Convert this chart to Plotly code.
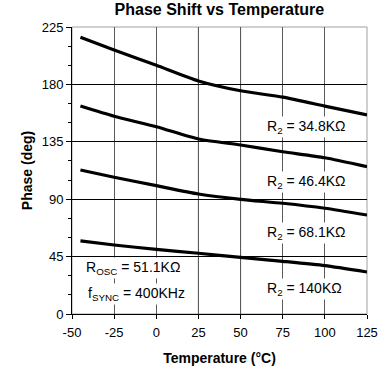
import plotly.graph_objects as go

temps = [-45, -25, 0, 25, 50, 75, 100, 125]
phase_348k = [216.9, 207.0, 195.0, 182.7, 175.0, 170.0, 163.0, 156.0]
phase_464k = [163.0, 155.0, 146.8, 137.2, 132.5, 127.2, 122.5, 115.5]
phase_681k = [112.9, 107.2, 100.6, 94.1, 89.9, 86.8, 82.9, 77.6]
phase_140k = [57.3, 54.1, 50.7, 47.6, 44.4, 41.3, 37.9, 32.9]

x_ticks = [-50, -25, 0, 25, 50, 75, 100, 125]
x_tick_labels = ["-50", "-25", "0", "25", "50", "75", "100", "125"]
y_ticks = [0, 45, 90, 135, 180, 225]
emph_grid = [25, 50]

labels = [
    ("R<sub>2</sub> = 34.8KΩ", 89, 146.6),
    ("R<sub>2</sub> = 46.4KΩ", 89, 103.7),
    ("R<sub>2</sub> = 68.1KΩ", 89, 63.3),
    ("R<sub>2</sub> = 140KΩ", 88, 19.4),
    ("R<sub>OSC</sub> = 51.1KΩ", -14, 35.8),
    ("f<sub>SYNC</sub> = 400KHz", -12, 15.7),
]

FONT = "Liberation Sans, Arial, sans-serif"

fig = go.Figure()
for ys in [phase_348k, phase_464k, phase_681k, phase_140k]:
    fig.add_trace(go.Scatter(x=temps, y=ys, mode="lines",
                             line=dict(color="black", width=3.2, shape="spline", smoothing=0.6),
                             showlegend=False, hoverinfo="skip"))

for g in emph_grid:
    fig.add_shape(type="line", xref="x", yref="paper", x0=g, x1=g, y0=0, y1=1,
                  line=dict(color="black", width=1), layer="below")

fig.add_shape(type="rect", xref="paper", yref="paper", x0=0, x1=1, y0=0, y1=1,
              line=dict(color="#a0a0a0", width=1), layer="below")

for txt, x, y in labels:
    fig.add_annotation(x=x, y=y, text=txt, showarrow=False,
                       font=dict(family=FONT, size=14, color="black"),
                       bgcolor="white", borderpad=1)

fig.update_layout(
    width=389, height=370,
    margin=dict(l=72, r=22, t=27, b=56),
    paper_bgcolor="white", plot_bgcolor="white",
    font=dict(family=FONT, size=13, color="black"),
    title=dict(text="<b>Phase Shift vs Temperature</b>", x=0.564, xanchor="center",
               y=0.99, yanchor="top", font=dict(family=FONT, size=16)),
    xaxis=dict(range=[-50, 125], tickvals=x_ticks, ticktext=x_tick_labels,
               showgrid=True, gridcolor="#5a5a5a", automargin=False,
               gridwidth=1, zeroline=False, showline=True, linecolor="black", linewidth=1,
               ticks="outside", ticklen=4, tickcolor="black", ticklabelstandoff=2,
               title=dict(text="<b>Temperature (°C)</b>", font=dict(family=FONT, size=14), standoff=14),
               tickfont=dict(family=FONT, size=13)),
    yaxis=dict(range=[0, 225], tickvals=y_ticks, showgrid=True, gridcolor="black",
               gridwidth=1, zeroline=False, showline=True, linecolor="black", linewidth=1,
               ticks="outside", ticklen=5, tickcolor="black", automargin=False,
               minor=dict(dtick=15, ticks="outside", ticklen=3, tickcolor="black", showgrid=False),
               title=dict(text="<b>Phase (deg)</b>", font=dict(family=FONT, size=14), standoff=5),
               tickfont=dict(family=FONT, size=13)),
)

fig.write_html("out.html", config={"displayModeBar": False},
               post_script="document.body.style.margin='0';")
